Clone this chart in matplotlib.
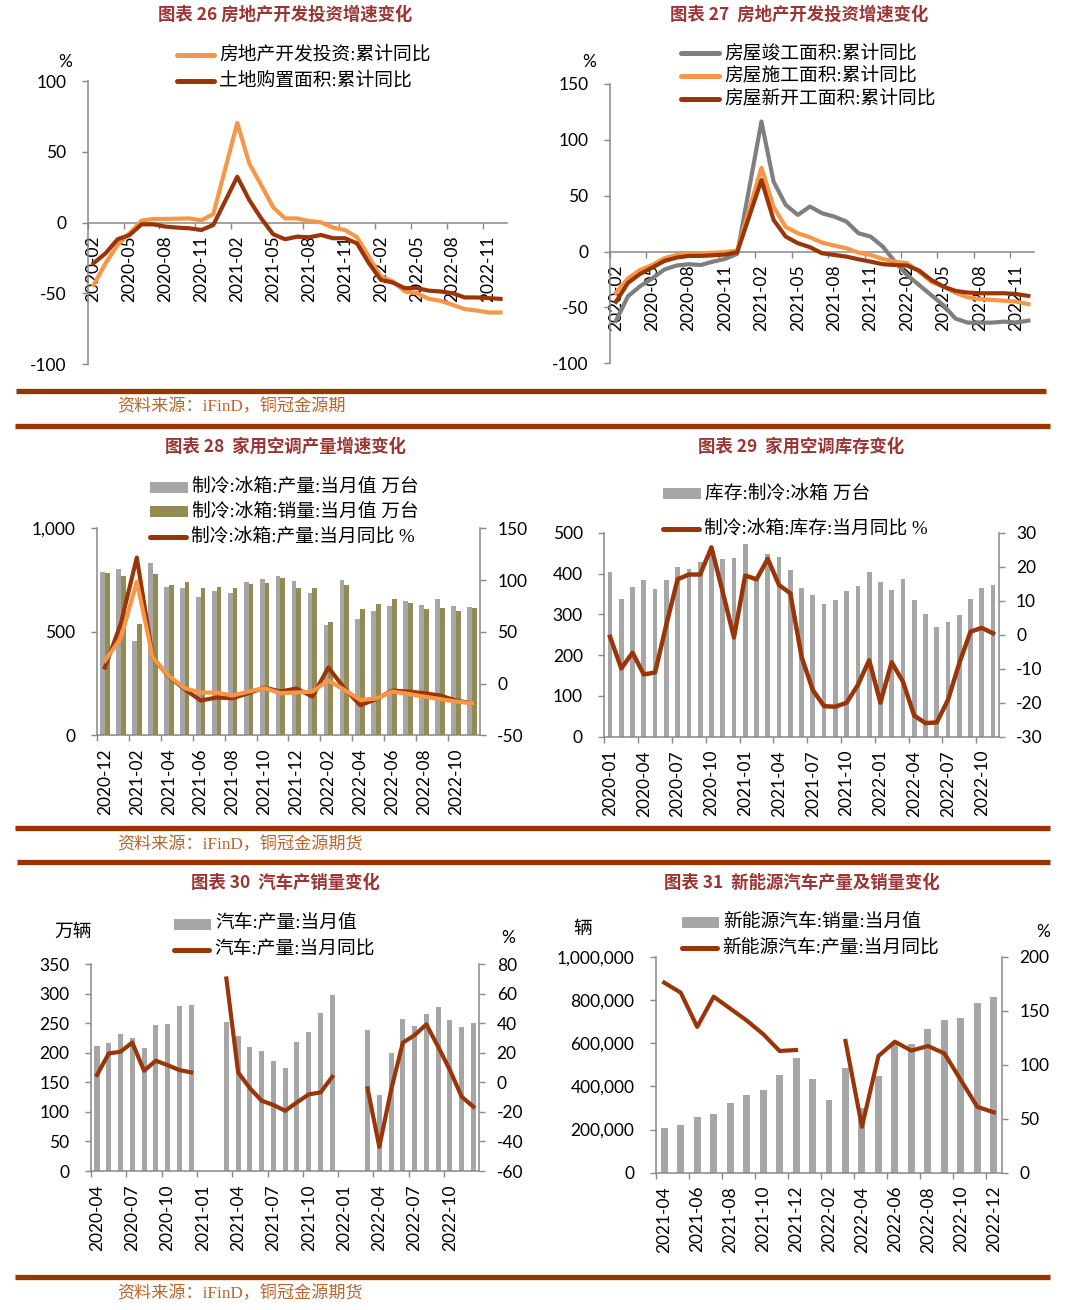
import numpy as np
import matplotlib
matplotlib.use("Agg")
import matplotlib.pyplot as plt
from matplotlib.lines import Line2D
from matplotlib.patches import Rectangle

nan = np.nan

# ---- chart 26: 房地产开发投资 / 土地购置面积 (2020-02 .. 2022-12)
invest = [-44, -28.6, -15.7, -7.5, 1.4, 2.6, 2.6, 2.8, 3.0, 1.6, 6.1, nan,
          70.4, 41.8, 26.5, 10.8, 3.0, 3.0, 1.2, 0.2, -3.5, -5.2, -10.3, -24,
          -38, -41.5, -48.6, -49.8, -53.8, -55.2, -58, -61, -62, -63.4, -63.4]
land = [-28.6, -21.6, -11.7, -8.7, -1.2, -1.2, -2.8, -3.5, -4.0, -5.2, -1.6, nan,
        32.4, 16, 3.0, -8.2, -11.7, -9.9, -10.3, -8.7, -11, -11, -14.6, -28.6,
        -40.4, -42.3, -46.2, -46.2, -48, -48.6, -49.8, -52.8, -52.8, -53.3, -53.8]
ticks_q = ['2020-02', '2020-05', '2020-08', '2020-11', '2021-02', '2021-05',
           '2021-08', '2021-11', '2022-02', '2022-05', '2022-08', '2022-11']

# ---- chart 27: 竣工 / 施工 / 新开工
done = [-62, -40, -31, -24, -16, -12.5, -11.3, -12, -9, -6.6, -2, nan,
        116.4, 62.7, 41.8, 32.8, 40.3, 34.3, 31.3, 26.9, 16.4, 13.4, 4.5, -9,
        -21, -30, -39, -48, -60, -63.6, -63.6, -63.6, -62.7, -63.6, -61.8]
construct = [-37, -24, -16.4, -12, -6, -3, -1.5, -1.5, -1, -0.6, 1, nan,
             75, 40, 22, 16.4, 12.8, 8, 5.4, 3, -1, -3, -6.6, -9,
             -10.4, -18, -27, -31.3, -37, -41, -42.4, -43.3, -44, -44.8, -47]
newstart = [-45, -28, -20, -14.3, -8.4, -5.4, -3.9, -3.9, -3.3, -2.7, -0.6, nan,
            64, 28.4, 13.4, 7.5, 3.9, -1.5, -3, -4.5, -6.9, -9, -11.3, -12,
            -12.5, -17, -25.4, -31.3, -35.2, -36.7, -37.3, -37.3, -37.3, -38, -39.7]

# ---- chart 28: 冰箱 产量/销量 (2020-12 .. 2022-11)
ac_prod = [787, 802, 457, 831, 718, 710, 670, 699, 689, 742, 754, 770,
           747, 686, 531, 750, 560, 601, 625, 647, 628, 657, 626, 622]
ac_sales = [783, 770, 539, 778, 726, 742, 713, 715, 710, 731, 734, 758,
            713, 710, 549, 726, 612, 634, 657, 638, 610, 615, 601, 614]
prod_yoy = [15.5, 58, 121.7, 25, 6.8, -5.5, -16.4, -13.5, -14.2, -9.3, -3.9, -7.7,
            -4.8, -12.6, 15.5, -4.5, -21, -15, -6.8, -7.7, -9.3, -11.6, -16.4, -19]
sales_yoy = [21.9, 43.8, 98.5, 25, 7.4, -4.5, -8.7, -8.7, -11.6, -7.7, -4.5, -9.3,
             -8.7, -7.7, 2.9, -6.1, -15.8, -14.5, -7.7, -10, -12.6, -15, -17.4, -19]
ticks_28 = ['2020-12', '2021-02', '2021-04', '2021-06', '2021-08', '2021-10',
            '2021-12', '2022-02', '2022-04', '2022-06', '2022-08', '2022-10']

# ---- chart 29: 冰箱库存 (2020-01 .. 2022-11)
inv = [403, 337, 366, 384, 362, 384, 416, 411, 428, 460, 435, 439,
       473, 385, 448, 441, 408, 364, 348, 325, 335, 356, 369, 404,
       378, 359, 386, 334, 300, 270, 281, 298, 338, 364, 372]
inv_yoy = [-0.6, -9.9, -5.3, -11.7, -11.1, 3, 16.3, 17.7, 17.7, 25.7, 12.6, -0.8,
           17.4, 16.3, 22.3, 14.6, 12.2, -6.5, -16.3, -21, -21.2, -20, -14.8, -7.5,
           -20, -8.1, -13.8, -23.8, -26, -25.8, -19.2, -8.4, 0.9, 2, 0.4]
ticks_29 = ['2020-01', '2020-04', '2020-07', '2020-10', '2021-01', '2021-04',
            '2021-07', '2021-10', '2022-01', '2022-04', '2022-07', '2022-10']

# ---- chart 30: 汽车产量 (2020-04 .. 2022-12)
car_prod = [211, 216, 232, 226, 209, 247, 249, 280, 281, nan, nan,
            252, 228, 210, 204, 186, 174, 219, 235, 268, 298, nan, nan,
            239, 129, 200, 258, 246, 266, 277, 256, 243, 250]
car_yoy = [5, 19.6, 20.8, 27, 7.9, 14.7, 11.7, 8.4, 6.8, nan, nan,
           70.4, 6.8, -4, -12.4, -15.3, -19.2, -13.5, -8.1, -6.8, 3.8, nan, nan,
           -4, -43.6, -5.2, 26.9, 32, 39.3, 24.2, 8.4, -9.7, -16.5]
ticks_30 = ['2020-04', '2020-07', '2020-10', '2021-01', '2021-04', '2021-07',
            '2021-10', '2022-01', '2022-04', '2022-07', '2022-10']

# ---- chart 31: 新能源汽车 (2021-04 .. 2022-12)
nev_sales = [208000, 219000, 258000, 272000, 323000, 358000, 384000, 451000,
             532000, 432000, 335000, 485000, 301000, 448000, 596000, 594000,
             667000, 708000, 716000, 786000, 815000]
nev_yoy = [176, 166.7, 135, 163, 152, 141, 128.4, 112.7, 113.6, nan, nan,
           122, 42.6, 108, 121.3, 113, 117.3, 110.5, 85.8, 61, 55.9]
ticks_31 = ['2021-04', '2021-06', '2021-08', '2021-10', '2021-12', '2022-02',
            '2022-04', '2022-06', '2022-08', '2022-10', '2022-12']

W, H = 1066, 1310
CJK = ['Noto Sans CJK SC', 'DejaVu Sans']
SERIF = ['Liberation Serif', 'Noto Sans CJK SC']
AXIS = '#888888'
ORANGE = '#F79646'
BROWN = '#9A3509'
GRAY_BAR = '#A6A6A6'
OLIVE = '#948A54'
TITLE_C = '#9B3533'
RULE = '#993300'
SRC_C = '#B8652E'

plt.rcParams['font.family'] = ['Lato', 'Noto Sans CJK SC']
plt.rcParams['axes.unicode_minus'] = False
plt.rcParams['font.size'] = 12

fig = plt.figure(figsize=(W / 100, H / 100), dpi=100)


def px_axes(l, r, t, b):
    return fig.add_axes([l / W, 1 - b / H, (r - l) / W, (b - t) / H])


def style_left(ax, yticks, ylabels):
    for s in ['top', 'right']:
        ax.spines[s].set_visible(False)
    for s in ['left', 'bottom']:
        ax.spines[s].set_color(AXIS)
        ax.spines[s].set_linewidth(1.1)
    ax.set_yticks(yticks)
    ax.set_yticklabels(ylabels)
    ax.tick_params(axis='y', length=4.5, width=1, color=AXIS, pad=11, labelsize=12.5)


def style_right(ax2, yticks, ylabels):
    for s in ['top', 'left', 'bottom']:
        ax2.spines[s].set_visible(False)
    ax2.spines['right'].set_color(AXIS)
    ax2.spines['right'].set_linewidth(1.1)
    ax2.set_yticks(yticks)
    ax2.set_yticklabels(ylabels)
    ax2.tick_params(axis='y', length=4.5, width=1, color=AXIS, pad=8, labelsize=12.5)


def cat_xaxis(ax, n, step, labels, pad=5):
    ax.set_xlim(0, n)
    ax.set_xticks(np.arange(0, n, step))
    ax.set_xticklabels([])
    ax.set_xticks(np.arange(0, len(labels) * step, step) + 0.5, minor=True)
    ax.set_xticklabels(labels, minor=True, rotation=90)
    ax.tick_params(axis='x', which='major', length=4.5, width=1, color=AXIS)
    ax.tick_params(axis='x', which='minor', length=4.5, width=0, pad=pad, labelsize=12.5)


def connected(ax, x, y, color):
    y = np.array(y, dtype=float)
    m = ~np.isnan(y)
    ax.plot(x[m], y[m], color=color, lw=3, solid_joinstyle='round', zorder=3)


def title(cx, cy, s):
    fig.text(cx / W, 1 - cy / H, s, ha='center', va='center', fontsize=12.5,
             fontweight='bold', color=TITLE_C, family=CJK)


def source(y, s):
    fig.text(117 / W, 1 - y / H, s, ha='left', va='center', fontsize=12.3,
             color=SRC_C, family=SERIF)


def rule(x0, x1, y):
    fig.add_artist(Line2D([x0 / W, x1 / W], [1 - y / H] * 2, color=RULE, lw=3.8,
                          solid_capstyle='butt'))


def leg_line(x0, x1, y, color, s):
    fig.add_artist(Line2D([x0 / W, x1 / W], [1 - y / H] * 2, color=color, lw=3.6,
                          solid_capstyle='round'))
    fig.text((x1 + 5) / W, 1 - y / H, s, ha='left', va='center', fontsize=13.5, family=SERIF)


def leg_patch(x0, x1, y, color, s):
    fig.add_artist(Rectangle((x0 / W, 1 - (y + 5.5) / H), (x1 - x0) / W, 11 / H,
                             color=color, lw=0))
    fig.text((x1 + 4) / W, 1 - y / H, s, ha='left', va='center', fontsize=13.5, family=SERIF)


def unit(x, y, s, fs=12.5, fam=None):
    fig.text(x / W, 1 - y / H, s, ha='center', va='center', fontsize=fs,
             family=fam if fam else CJK)


# ================= chart 26
ax = px_axes(87.7, 506.5, 81, 364.3)
x = np.arange(len(invest)) + 0.5
connected(ax, x, invest, ORANGE)
connected(ax, x, land, BROWN)
ax.set_ylim(-100, 100)
style_left(ax, [-100, -50, 0, 50, 100], ['-100', '-50', '0', '50', '100'])
ax.spines['bottom'].set_position(('data', 0))
cat_xaxis(ax, 35, 3, ticks_q, pad=5)
title(285.5, 15, '图表 26 房地产开发投资增速变化')
unit(65.6, 61.7, '%', fam=['Lato'])
leg_line(176.7, 214, 55, ORANGE, '房地产开发投资:累计同比')
leg_line(176.7, 214, 81, BROWN, '土地购置面积:累计同比')

# ================= chart 27
ax = px_axes(609.8, 1034.4, 84, 363.3)
x = np.arange(len(done)) + 0.5
connected(ax, x, done, '#7F7F7F')
connected(ax, x, construct, ORANGE)
connected(ax, x, newstart, BROWN)
ax.set_ylim(-100, 150)
style_left(ax, [-100, -50, 0, 50, 100, 150], ['-100', '-50', '0', '50', '100', '150'])
ax.spines['bottom'].set_position(('data', 0))
cat_xaxis(ax, 35, 3, ticks_q, pad=5)
title(799, 15, '图表 27  房地产开发投资增速变化')
unit(589, 61.7, '%', fam=['Lato'])
leg_line(681, 719, 53.3, '#7F7F7F', '房屋竣工面积:累计同比')
leg_line(681, 719, 76, ORANGE, '房屋施工面积:累计同比')
leg_line(681, 719, 99, BROWN, '房屋新开工面积:累计同比')

# ================= chart 28
ax = px_axes(96.9, 480, 528.3, 735.3)
x = np.arange(len(ac_prod)) + 0.5
ax.bar(x - 0.15, ac_prod, width=0.3, color=GRAY_BAR, lw=0)
ax.bar(x + 0.15, ac_sales, width=0.3, color=OLIVE, lw=0)
ax.set_ylim(0, 1000)
style_left(ax, [0, 500, 1000], ['0', '500', '1,000'])
cat_xaxis(ax, 24, 2, ticks_28)
ax2 = ax.twinx()
ax2.plot(x, prod_yoy, color=BROWN, lw=3)
ax2.plot(x, sales_yoy, color=ORANGE, lw=3)
ax2.set_ylim(-50, 150)
style_right(ax2, [-50, 0, 50, 100, 150], ['-50', '0', '50', '100', '150'])
title(285.5, 446.7, '图表 28  家用空调产量增速变化')
leg_patch(149.6, 187.6, 487.3, GRAY_BAR, '制冷:冰箱:产量:当月值 万台')
leg_patch(149.6, 187.6, 511.7, OLIVE, '制冷:冰箱:销量:当月值 万台')
leg_line(149.6, 185.6, 536.7, BROWN, '制冷:冰箱:产量:当月同比 %')

# ================= chart 29
ax = px_axes(604.4, 998.7, 532.7, 736.7)
x = np.arange(len(inv)) + 0.5
ax.bar(x, inv, width=0.42, color=GRAY_BAR, lw=0)
ax.set_ylim(0, 500)
style_left(ax, [0, 100, 200, 300, 400, 500], ['0', '100', '200', '300', '400', '500'])
cat_xaxis(ax, 35, 3, ticks_29)
ax2 = ax.twinx()
ax2.plot(x, inv_yoy, color=BROWN, lw=3.2)
ax2.set_ylim(-30, 30)
style_right(ax2, [-30, -20, -10, 0, 10, 20, 30], ['-30', '-20', '-10', '0', '10', '20', '30'])
title(801.5, 446.7, '图表 29  家用空调库存变化')
leg_patch(663, 700.6, 494, GRAY_BAR, '库存:制冷:冰箱 万台')
leg_line(663, 698.6, 529.3, BROWN, '制冷:冰箱:库存:当月同比 %')

# ================= chart 30
ax = px_axes(91.1, 479.3, 964.3, 1171)
x = np.arange(len(car_prod)) + 0.5
ax.bar(x, car_prod, width=0.43, color=GRAY_BAR, lw=0)
ax.set_ylim(0, 350)
style_left(ax, list(range(0, 351, 50)), [str(v) for v in range(0, 351, 50)])
cat_xaxis(ax, 33, 3, ticks_30)
ax2 = ax.twinx()
ax2.plot(x, car_yoy, color=BROWN, lw=3)
ax2.set_ylim(-60, 80)
style_right(ax2, list(range(-60, 81, 20)), [str(v) for v in range(-60, 81, 20)])
title(285.9, 883.3, '图表 30  汽车产销量变化')
unit(73.4, 931, '万辆', fs=13.5)
unit(508, 937.7, '%', fam=['Lato'])
leg_patch(174, 211.4, 924, GRAY_BAR, '汽车:产量:当月值')
leg_line(174, 209.4, 950, BROWN, '汽车:产量:当月同比')

# ================= chart 31
ax = px_axes(656, 1002, 956.7, 1172.7)
x = np.arange(len(nev_sales)) + 0.5
ax.bar(x, nev_sales, width=0.42, color=GRAY_BAR, lw=0)
ax.set_ylim(0, 1000000)
style_left(ax, list(range(0, 1000001, 200000)),
           ['{:,}'.format(v) for v in range(0, 1000001, 200000)])
cat_xaxis(ax, 21, 2, ticks_31)
ax2 = ax.twinx()
ax2.plot(x, nev_yoy, color=BROWN, lw=3)
ax2.set_ylim(0, 200)
style_right(ax2, [0, 50, 100, 150, 200], ['0', '50', '100', '150', '200'])
title(802, 883.3, '图表 31  新能源汽车产量及销量变化')
unit(582.3, 928.3, '辆', fs=13.5)
unit(1043, 931.7, '%', fam=['Lato'])
leg_patch(682, 719.3, 922.7, GRAY_BAR, '新能源汽车:销量:当月值')
leg_line(682, 717.3, 947.7, BROWN, '新能源汽车:产量:当月同比')

# ================= rules and sources
rule(16, 1046, 390.7)
rule(15, 1050, 425.8)
rule(15, 1050, 827.5)
rule(17, 1050, 862)
rule(15, 1050, 1277)
source(406.7, '资料来源：iFinD，铜冠金源期')
source(845, '资料来源：iFinD，铜冠金源期货')
source(1294.3, '资料来源：iFinD，铜冠金源期货')

fig.savefig('out.png', dpi=100, facecolor='white')
